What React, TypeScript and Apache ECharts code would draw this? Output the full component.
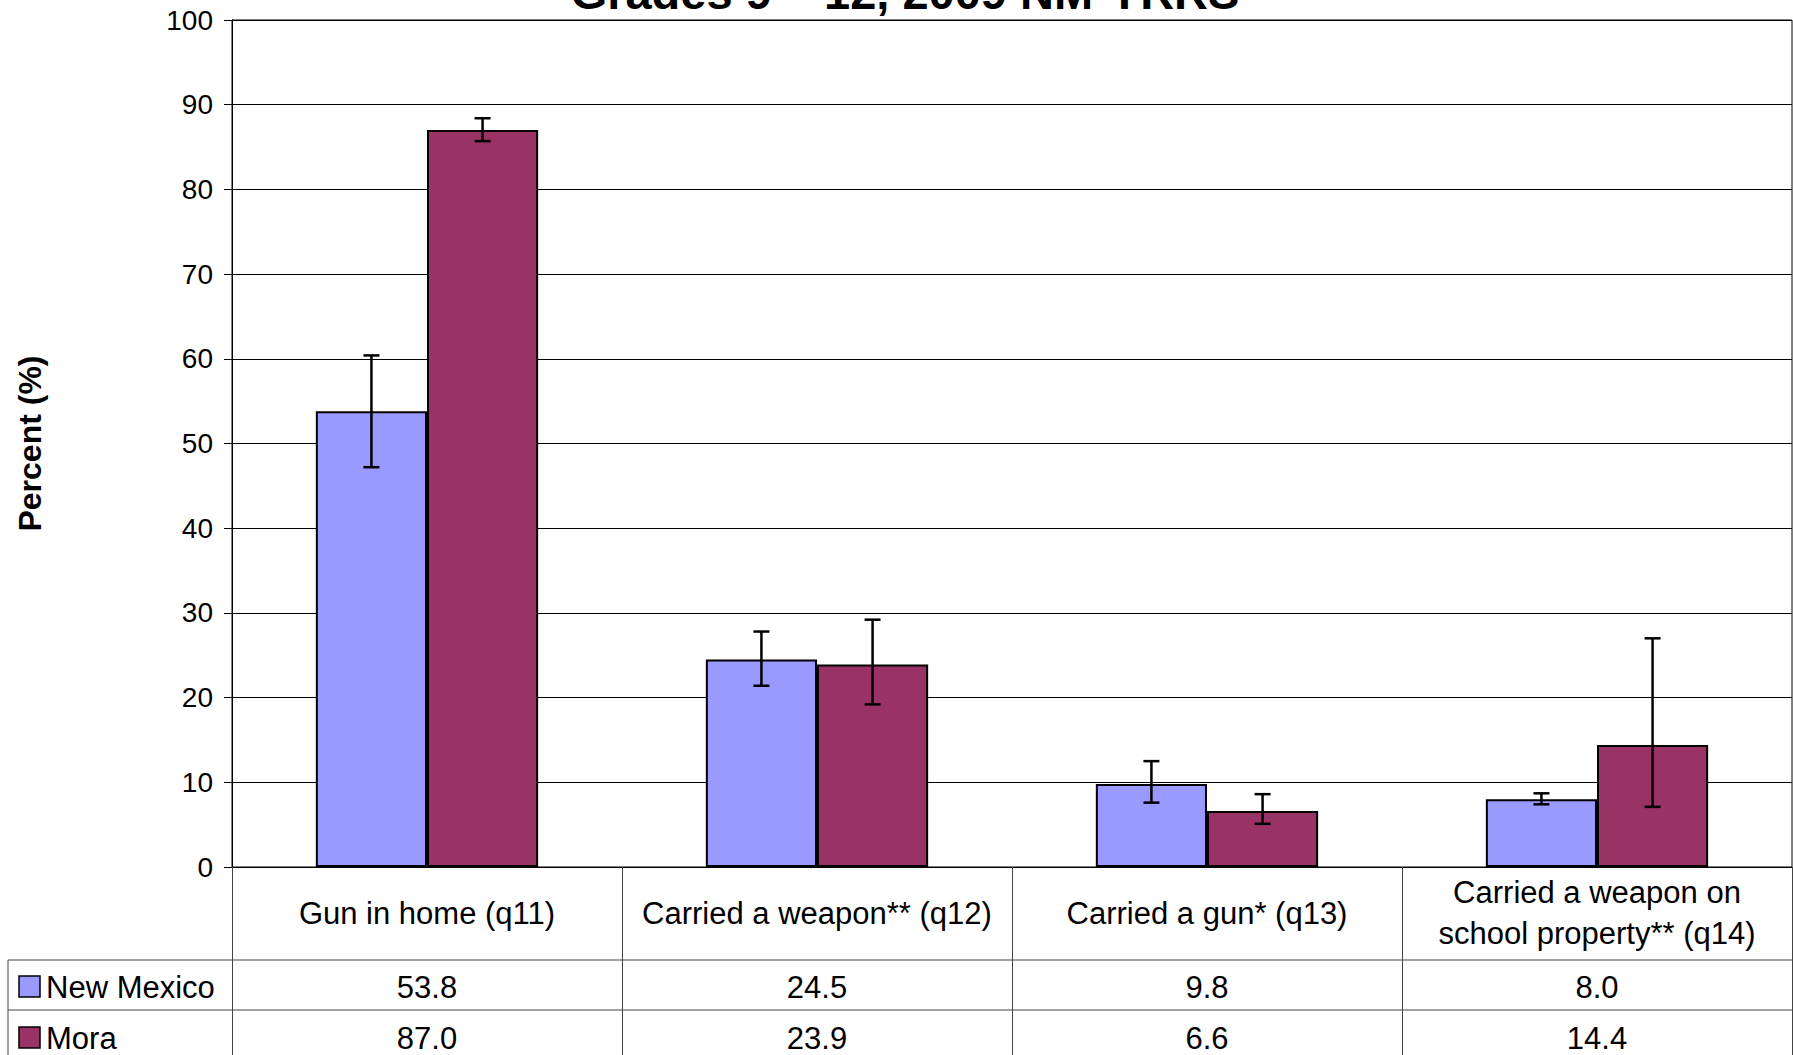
import React, { useEffect, useRef } from "react";
import * as echarts from "echarts";

const categories = [
  "Gun in home (q11)",
  "Carried a weapon** (q12)",
  "Carried a gun* (q13)",
  "Carried a weapon on\nschool property** (q14)",
];
const seriesNames = ["New Mexico", "Mora"];
const newMexico = [53.8, 24.5, 9.8, 8.0];
const mora = [87.0, 23.9, 6.6, 14.4];
const newMexicoLow = [47.2, 21.4, 7.6, 7.4];
const newMexicoHigh = [60.4, 27.8, 12.5, 8.7];
const moraLow = [85.7, 19.2, 5.1, 7.1];
const moraHigh = [88.4, 29.2, 8.6, 27.0];
const yMin = 0;
const yMax = 100;
const yInterval = 10;
const titleText = "Grades 9 – 12, 2009 NM-YRRS";
const yAxisTitle = "Percent (%)";
const colors = ["#9999FF", "#993366"];

const FONT = "'Liberation Sans', Arial, Helvetica, sans-serif";
const CAT_GAP = 0.43;

export default function App() {
  const ref = useRef<HTMLDivElement>(null);
  useEffect(() => {
    if (!ref.current) return;
    const chart = echarts.init(ref.current, undefined, { renderer: "svg" });

    const errData = (lows: number[], highs: number[]) =>
      lows.map((l, i) => [i, l, highs[i]]);

    const makeErr = (idx: number, lows: number[], highs: number[]) => ({
      type: "custom",
      name: seriesNames[idx] + " CI",
      z: 10,
      encode: { x: 0, y: [1, 2] },
      data: errData(lows, highs),
      renderItem: (params: any, api: any) => {
        const band = api.size([1, 0])[0];
        const bw = (band * (1 - CAT_GAP)) / 2;
        const off = idx === 0 ? -bw / 2 : bw / 2;
        const lo = api.coord([api.value(0), api.value(1)]);
        const hi = api.coord([api.value(0), api.value(2)]);
        const x = lo[0] + off;
        const cap = 8;
        const st = { stroke: "#000", lineWidth: 2.5 };
        return {
          type: "group",
          children: [
            { type: "line", shape: { x1: x, y1: lo[1], x2: x, y2: hi[1] }, style: st },
            { type: "line", shape: { x1: x - cap, y1: lo[1], x2: x + cap, y2: lo[1] }, style: st },
            { type: "line", shape: { x1: x - cap, y1: hi[1], x2: x + cap, y2: hi[1] }, style: st },
          ],
        };
      },
    });

    chart.setOption({
      animation: false,
      backgroundColor: "#fff",
      textStyle: { fontFamily: FONT },
      grid: {
        left: 232,
        right: 1,
        top: 20,
        bottom: 188,
        containLabel: false,
        outerBoundsMode: "none",
        show: true,
        borderColor: "#000",
        borderWidth: 1,
      },
      xAxis: {
        type: "category",
        data: categories,
        axisLine: { show: true, lineStyle: { color: "#000", width: 1 } },
        axisTick: { show: true, length: 188, lineStyle: { color: "#444", width: 1 } },
        axisLabel: {
          fontSize: 31,
          color: "#000",
          fontFamily: FONT,
          margin: 46,
          verticalAlign: "middle",
          lineHeight: 41,
          interval: 0,
          align: "center",
        },
      },
      yAxis: {
        type: "value",
        min: yMin,
        max: yMax,
        interval: yInterval,
        name: yAxisTitle,
        nameLocation: "middle",
        nameGap: 186,
        nameRotate: 90,
        nameTextStyle: { fontSize: 32, fontWeight: "bold", color: "#000", fontFamily: FONT },
        axisLine: { show: true, lineStyle: { color: "#000", width: 1 } },
        axisTick: { show: true, inside: false, length: 8, lineStyle: { color: "#000" } },
        axisLabel: { fontSize: 28, color: "#000", margin: 19, fontFamily: FONT },
        splitLine: { show: true, lineStyle: { color: "#000", width: 1 } },
      },
      series: [
        {
          type: "bar",
          name: seriesNames[0],
          data: newMexico,
          barGap: "0%",
          barCategoryGap: CAT_GAP * 100 + "%",
          itemStyle: { color: colors[0], borderColor: "#000", borderWidth: 2 },
        },
        {
          type: "bar",
          name: seriesNames[1],
          data: mora,
          barGap: "0%",
          barCategoryGap: CAT_GAP * 100 + "%",
          itemStyle: { color: colors[1], borderColor: "#000", borderWidth: 2 },
        },
        makeErr(0, newMexicoLow, newMexicoHigh),
        makeErr(1, moraLow, moraHigh),
      ],
    });

    const rowY = [987, 1038];
    const rowValues = [newMexico, mora];
    const graphics: any[] = [
      {
        type: "text",
        x: 905,
        y: -8,
        style: {
          text: titleText,
          font: `bold 47px ${FONT}`,
          fill: "#000",
          align: "center",
          verticalAlign: "middle",
        },
      },
      { type: "line", shape: { x1: 8, y1: 960, x2: 1792, y2: 960 }, style: { stroke: "#444", lineWidth: 1 } },
      { type: "line", shape: { x1: 8, y1: 1010, x2: 1792, y2: 1010 }, style: { stroke: "#444", lineWidth: 1 } },
      { type: "line", shape: { x1: 8, y1: 960, x2: 8, y2: 1055 }, style: { stroke: "#444", lineWidth: 1 } },
    ];
    rowValues.forEach((vals, r) => {
      graphics.push({
        type: "rect",
        shape: { x: 19, y: rowY[r] - 11, width: 21, height: 21 },
        style: { fill: colors[r], stroke: "#000", lineWidth: 1.5 },
      });
      graphics.push({
        type: "text",
        x: 46,
        y: rowY[r],
        style: {
          text: seriesNames[r],
          font: `31px ${FONT}`,
          fill: "#000",
          align: "left",
          verticalAlign: "middle",
        },
      });
      vals.forEach((v, i) => {
        const cx = chart.convertToPixel({ xAxisIndex: 0 }, i) as number;
        graphics.push({
          type: "text",
          x: cx,
          y: rowY[r],
          style: {
            text: v.toFixed(1),
            font: `31px ${FONT}`,
            fill: "#000",
            align: "center",
            verticalAlign: "middle",
          },
        });
      });
    });
    chart.setOption({ graphic: graphics });

    return () => chart.dispose();
  }, []);
  return (
    <div
      ref={ref}
      style={{ position: "fixed", left: 0, top: 0, width: 1793, height: 1055 }}
    />
  );
}
